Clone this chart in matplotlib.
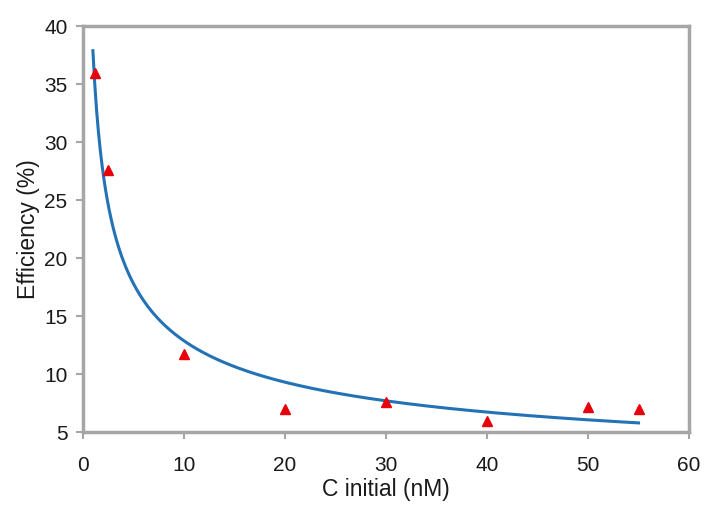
import numpy as np
import matplotlib.pyplot as plt

plt.rcParams['font.family'] = ['Liberation Sans', 'DejaVu Sans']

# measured points
c_initial = np.array([1.2, 2.5, 10, 20, 30, 40, 50, 55])
efficiency = np.array([36.0, 27.6, 11.7, 7.0, 7.6, 6.0, 7.2, 7.0])

# power trendline fitted to the points (like Excel does, in log space)
b, ln_a = np.polyfit(np.log(c_initial), np.log(efficiency), 1)
x_fit = np.linspace(1.0, 55, 300)
y_fit = np.exp(ln_a) * x_fit ** b

fig = plt.figure(figsize=(7.2, 5.12), dpi=100)
ax = fig.add_axes([0.115, 0.156, 0.842, 0.793])

ax.plot(x_fit, y_fit, color='#2372b5', lw=2.2, zorder=2)
ax.plot(c_initial, efficiency, '^', color='#e8000b', ms=7, mec='#e8000b', zorder=3)

ax.set_xlim(0, 60)
ax.set_ylim(5, 40)
ax.set_xticks(range(0, 61, 10))
ax.set_yticks(range(5, 41, 5))

for s in ax.spines.values():
    s.set_color('#a6a6a6')
    s.set_linewidth(2.5)
ax.tick_params(direction='out', length=5, width=1.5, color='#a6a6a6',
               labelsize=15, labelcolor='#1a1a1a', pad=6)
ax.tick_params(axis='x', pad=12)
ax.tick_params(top=False, right=False)

ax.set_xlabel('C initial (nM)', fontsize=16.5, color='#1a1a1a', labelpad=2)
ax.set_ylabel('Efficiency (%)', fontsize=16.5, color='#1a1a1a', labelpad=3)

fig.savefig('out.png', dpi=100)
